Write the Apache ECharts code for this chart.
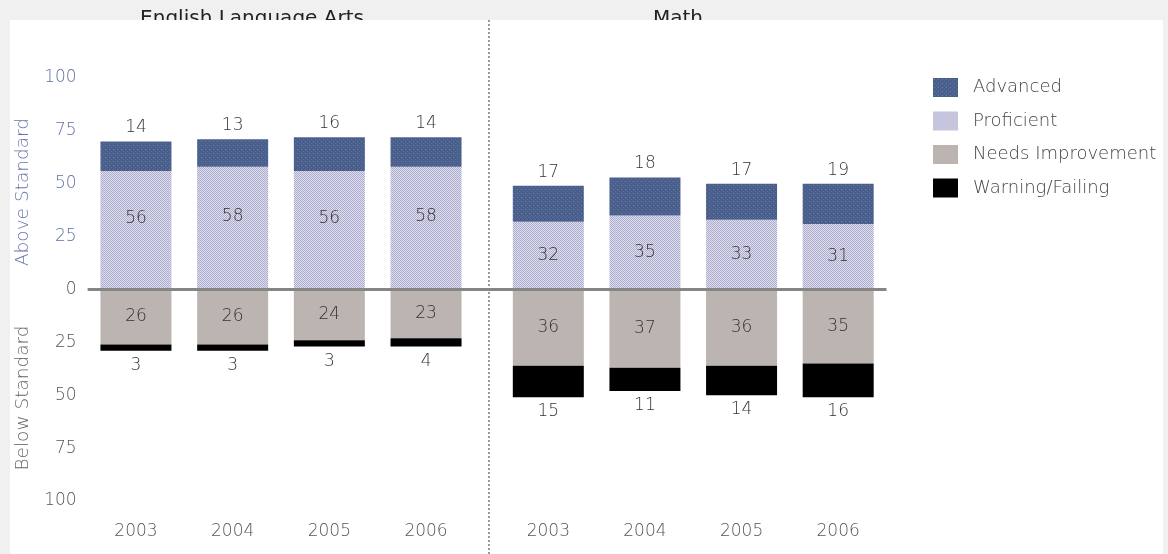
<!DOCTYPE html>
<html>
<head>
<meta charset="utf-8">
<script src="https://cdn.jsdelivr.net/npm/echarts@6/dist/echarts.min.js"></script>
<style>
  html, body { margin: 0; padding: 0; background: #f0f0f0; }
  #chart { width: 1168px; height: 554px; }
</style>
</head>
<body>
<div id="chart"></div>
<script>
// MCAS performance levels, percent of students
const years = ['2003', '2004', '2005', '2006'];
const seriesNames = ['Advanced', 'Proficient', 'Needs Improvement', 'Warning/Failing'];

const elaAdvanced = [14, 13, 16, 14];
const elaProficient = [56, 58, 56, 58];
const elaNeeds = [26, 26, 24, 23];
const elaWarning = [3, 3, 3, 4];

const mathAdvanced = [17, 18, 17, 19];
const mathProficient = [32, 35, 33, 31];
const mathNeeds = [36, 37, 36, 35];
const mathWarning = [15, 11, 14, 16];

const panelTitles = ['English Language Arts', 'Math'];
const axisNames = ['Above Standard', 'Below Standard'];

const FONT = '"DejaVu Sans", sans-serif';
const LIGHT = 200;

// small tiled fills for the upper segments
function makePattern(size, base, dots) {
  const c = document.createElement('canvas');
  c.width = size; c.height = size;
  const g = c.getContext('2d');
  g.fillStyle = base;
  g.fillRect(0, 0, size, size);
  dots.forEach(d => { g.fillStyle = d[2]; g.fillRect(d[0], d[1], 1, 1); });
  return { image: c, repeat: 'repeat' };
}
const advancedFill = makePattern(4, '#4a5f8b', [[1, 1, '#6a7ca6'], [3, 3, '#5b6d99']]);
const proficientFill = makePattern(2, '#c0c0da', [[0, 0, '#acacce'], [1, 1, '#acacce'], [1, 0, '#dedeec'], [0, 1, '#dedeec']]);
const needsFill = '#bcb4b1';
const warningFill = '#000000';

const labelStyle = { fontFamily: FONT, fontSize: 17, color: '#333', fontWeight: LIGHT };
const absVal = p => Math.abs(p.value);
const neg = arr => arr.map(v => -v);

function subjectSeries(gridIdx, adv, prof, needs, warn, profOffset) {
  const base = {
    type: 'bar', stack: 's' + gridIdx, barWidth: 71,
    xAxisIndex: gridIdx, yAxisIndex: gridIdx
  };
  return [
    Object.assign({}, base, {
      name: 'Proficient', data: prof, itemStyle: { color: proficientFill },
      label: Object.assign({ show: true, position: 'inside', offset: profOffset, formatter: absVal }, labelStyle)
    }),
    Object.assign({}, base, {
      name: 'Needs Improvement', data: neg(needs), itemStyle: { color: needsFill },
      label: Object.assign({ show: true, position: 'inside', formatter: absVal }, labelStyle)
    }),
    Object.assign({}, base, {
      name: 'Advanced', data: adv, itemStyle: { color: advancedFill },
      label: Object.assign({ show: true, position: 'top', distance: 5, formatter: absVal }, labelStyle)
    }),
    Object.assign({}, base, {
      name: 'Warning/Failing', data: neg(warn), itemStyle: { color: warningFill },
      label: Object.assign({ show: true, position: 'bottom', distance: 6, formatter: absVal }, labelStyle)
    })
  ];
}

const grids = [
  { left: 87.6, top: 78, width: 386.8, height: 423 },
  { left: 500, top: 78, width: 386.5, height: 423 }
];

function xAxisFor(i) {
  return {
    type: 'category', gridIndex: i, data: years,
    axisLine: { show: false, onZero: false }, axisTick: { show: false },
    axisLabel: { margin: 22, fontFamily: FONT, fontSize: 17, color: '#555', fontWeight: LIGHT }
  };
}
function yAxisFor(i) {
  return {
    type: 'value', gridIndex: i, min: -100, max: 100, interval: 25,
    axisLine: { show: false }, axisTick: { show: false }, splitLine: { show: false },
    axisLabel: {
      show: i === 0, margin: 11,
      formatter: v => (v > 0 ? '{up|' + v + '}' : '{down|' + Math.abs(v) + '}'),
      rich: {
        up: { fontFamily: FONT, fontSize: 17, color: '#5f70a4', fontWeight: LIGHT },
        down: { fontFamily: FONT, fontSize: 17, color: '#555', fontWeight: LIGHT }
      }
    }
  };
}

const chart = echarts.init(document.getElementById('chart'), null, { renderer: 'canvas' });

chart.setOption({
  backgroundColor: '#f0f0f0',
  animation: false,
  grid: grids,
  xAxis: [xAxisFor(0), xAxisFor(1)],
  yAxis: [yAxisFor(0), yAxisFor(1)],
  legend: {
    data: seriesNames,
    orient: 'vertical', left: 933, top: 78, padding: 0,
    itemWidth: 25, itemHeight: 19, itemGap: 14.5, icon: 'rect',
    textStyle: { fontFamily: FONT, fontSize: 18, color: '#444', fontWeight: LIGHT, padding: [0, 0, 0, 10] }
  },
  series: []
    .concat(subjectSeries(0, elaAdvanced, elaProficient, elaNeeds, elaWarning, [0, -12]))
    .concat(subjectSeries(1, mathAdvanced, mathProficient, mathNeeds, mathWarning, [0, 0]))
});

// zero baseline across both panels, divider, panel titles and axis names
const zeroY = chart.convertToPixel({ yAxisIndex: 0 }, 0);
chart.setOption({
  graphic: [
    { type: 'text', z: -2, x: 252, y: 9,
      style: { text: panelTitles[0], fontFamily: FONT, fontSize: 20, fill: '#222', align: 'center', verticalAlign: 'top' } },
    { type: 'text', z: -2, x: 678, y: 9,
      style: { text: panelTitles[1], fontFamily: FONT, fontSize: 20, fill: '#222', align: 'center', verticalAlign: 'top' } },
    { type: 'rect', z: -1, shape: { x: 10, y: 20, width: 1153, height: 534 }, style: { fill: '#ffffff' } },
    { type: 'line', z: 5, shape: { x1: 489, y1: 20, x2: 489, y2: 554 },
      style: { stroke: '#9a9a9a', lineWidth: 2, lineDash: [2, 2] } },
    { type: 'line', z: 5,
      shape: { x1: grids[0].left, y1: zeroY, x2: grids[1].left + grids[1].width, y2: zeroY },
      style: { stroke: '#858585', lineWidth: 3 } },
    { type: 'text', z: 5, x: 23, y: 192, rotation: Math.PI / 2,
      style: { text: axisNames[0], fontFamily: FONT, fontSize: 18.5, fill: '#6575a8', fontWeight: LIGHT, align: 'center', verticalAlign: 'middle' } },
    { type: 'text', z: 5, x: 23, y: 398, rotation: Math.PI / 2,
      style: { text: axisNames[1], fontFamily: FONT, fontSize: 18.5, fill: '#666', fontWeight: LIGHT, align: 'center', verticalAlign: 'middle' } }
  ]
});
</script>
</body>
</html>
